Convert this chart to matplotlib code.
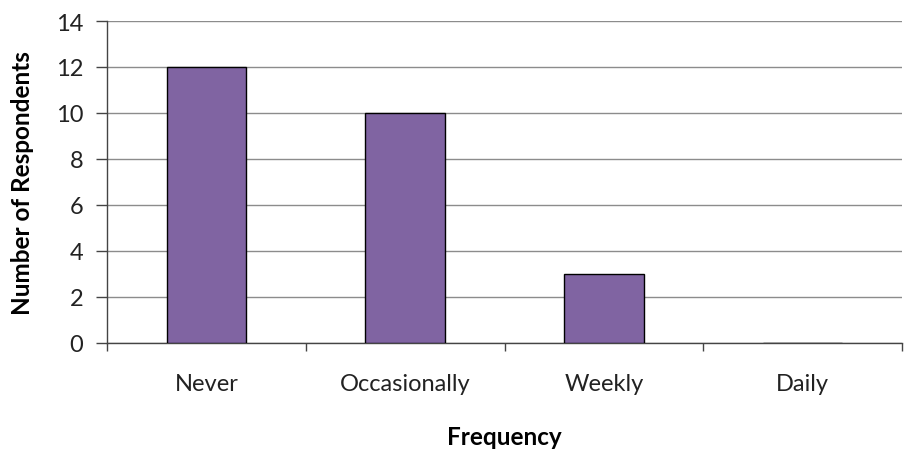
import matplotlib
matplotlib.use("Agg")
import matplotlib.pyplot as plt
import numpy as np

# survey results
categories = ["Never", "Occasionally", "Weekly", "Daily"]
respondents = [12, 10, 3, 0]
y_ticks = [0, 2, 4, 6, 8, 10, 12, 14]

plt.rcParams['font.family'] = ['Lato', 'DejaVu Sans']

fig = plt.figure(figsize=(9.07, 4.52), dpi=100)
ax = fig.add_axes([107 / 907, 1 - 343.5 / 452, 795 / 907, 321.5 / 452])

x = np.arange(len(categories))
ax.bar(x, respondents, width=0.4, color="#8064A2", edgecolor="black", linewidth=1, zorder=3)

ax.set_xlim(-0.5, len(categories) - 0.5)
ax.set_ylim(0, 14)
ax.set_yticks(y_ticks)
ax.yaxis.grid(True, color="#8c8c8c", linewidth=1, zorder=0)

# category labels centered, tick marks between categories
ax.set_xticks(x)
ax.set_xticklabels(categories)
ax.set_xticks(np.arange(len(categories) + 1) - 0.5, minor=True)
ax.tick_params(axis="x", which="major", length=0, pad=22, labelsize=17, colors="#222222")
ax.tick_params(axis="x", which="minor", length=6, width=1, direction="out", color="#444444")
ax.tick_params(axis="y", length=8, width=1, color="#444444", labelsize=17, pad=9, labelcolor="#222222")

for s in ["top", "right"]:
    ax.spines[s].set_visible(False)
for s in ["left", "bottom"]:
    ax.spines[s].set_color("#444444")
    ax.spines[s].set_linewidth(1)

ax.set_ylabel("Number of Respondents", fontsize=17.5, fontweight="bold", labelpad=16)
# x-axis title placed in figure coords so it sits near the bottom edge
fig.text((107 + 795 / 2) / 907, 1 - 438 / 452, "Frequency", fontsize=17.5,
         fontweight="bold", ha="center", va="center")

fig.savefig("out.png", dpi=100)
